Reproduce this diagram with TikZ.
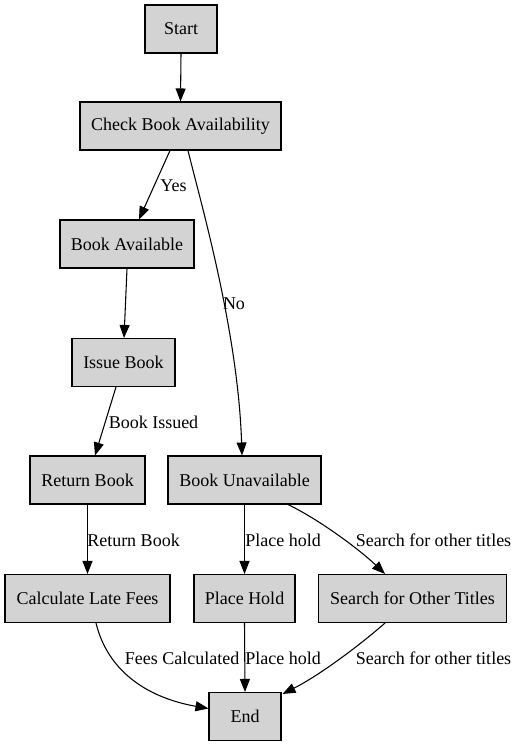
\documentclass[tikz,border=0pt]{standalone}
\usepackage{fontspec}
\setmainfont{Liberation Serif}
\usetikzlibrary{arrows.meta,calc}
\definecolor{boxgray}{HTML}{D3D3D3}
\begin{document}
\begin{tikzpicture}[x=0.75pt,y=-0.75pt,
  box/.style={draw=black,fill=boxgray,line width=0.8pt,inner sep=0pt,minimum height=36pt,font=\fontsize{13.5pt}{16pt}\selectfont},
  edge/.style={draw=black,line width=0.8pt,-{Triangle[length=9.75pt,width=7.5pt]}},
  lbl/.style={inner sep=0pt,font=\fontsize{13.5pt}{16pt}\selectfont}]
\useasboundingbox (0,0) rectangle (518,746);
\node[box,minimum width=54pt] (start) at (181,29) {Start};
\node[box,minimum width=150.75pt] (check) at (180.5,126) {Check Book Availability};
\node[box,minimum width=100.5pt] (avail) at (127,244) {Book Available};
\node[box,minimum width=77.25pt] (issue) at (123.5,362.5) {Issue Book};
\node[box,minimum width=86.25pt] (ret) at (87.5,480) {Return Book};
\node[box,minimum width=114.75pt] (unavail) at (244.5,480) {Book Unavailable};
\node[box,minimum width=123.75pt] (calc) at (87.5,598.5) {Calculate Late Fees};
\node[box,minimum width=75.75pt] (hold) at (244.5,598.5) {Place Hold};
\node[box,minimum width=141pt] (search) at (412.5,598.5) {Search for Other Titles};
\node[box,minimum width=54pt] (end) at (245,716.5) {End};

\draw[edge] (start.south) -- (check.north);
\draw[edge] ($(check.south)+(-10.5,0)$) -- ($(avail.north)+(12,0)$);
\draw[edge] ($(check.south)+(7.5,0)$) .. controls (200,200) and (238,330) .. ($(unavail.north)+(-2.5,0)$);
\draw[edge] ($(avail.south)+(0,0)$) -- ($(issue.north)+(0.5,0)$);
\draw[edge] ($(issue.south)+(-7.5,0)$) -- ($(ret.north)+(7.5,0)$);
\draw[edge] (ret.south) -- (calc.north);
\draw[edge] (unavail.south) -- (hold.north);
\draw[edge] ($(unavail.south)+(43.5,0)$) .. controls (320,520) and (360,550) .. ($(search.north)+(-27.5,0)$);
\draw[edge] ($(calc.south)+(8.5,0)$) .. controls (110,680) and (160,700) .. ($(end.west)+(0,-8)$);
\draw[edge] (hold.south) -- (end.north);
\draw[edge] ($(search.south)+(-27.5,0)$) .. controls (360,645) and (320,675) .. ($(end.north east)+(1,2)$);

\node[lbl] (lyes) at (173.5,186) {Yes};
\node[lbl] (lno) at (234,304) {No};
\node[lbl] (lissued) at (153.5,422) {Book Issued};
\node[lbl] (lret) at (133.5,540) {Return Book};
\node[lbl] (lhold1) at (283,540) {Place hold};
\node[lbl] (lsearch1) at (433.5,540) {Search for other titles};
\node[lbl] (lfees) at (182,658) {Fees Calculated};
\node[lbl] (lhold2) at (283,658) {Place hold};
\node[lbl] (lsearch2) at (433.5,658) {Search for other titles};
\end{tikzpicture}
\end{document}
